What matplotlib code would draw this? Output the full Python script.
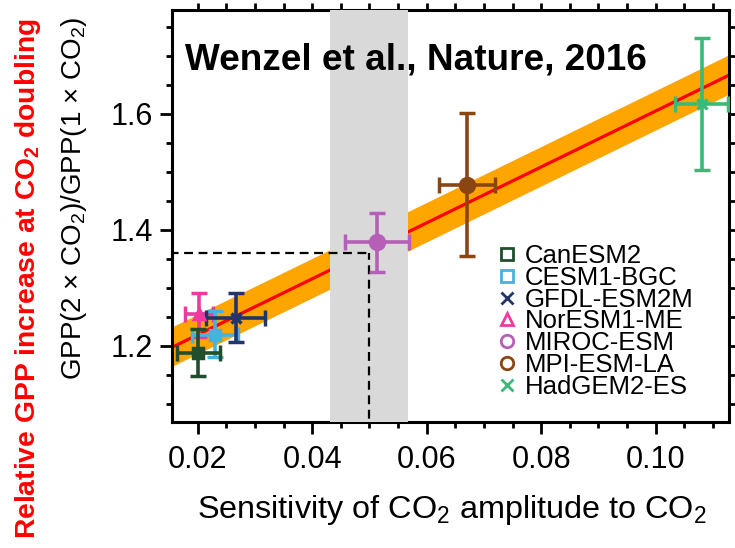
import numpy as np
import matplotlib
matplotlib.use('Agg')
import matplotlib.pyplot as plt
from matplotlib.lines import Line2D
from matplotlib.ticker import MultipleLocator

plt.rcParams['font.family'] = ['Liberation Sans', 'DejaVu Sans']
plt.rcParams['mathtext.fontset'] = 'custom'
plt.rcParams['mathtext.rm'] = 'Liberation Sans'
plt.rcParams['mathtext.it'] = 'Liberation Sans:italic'
plt.rcParams['mathtext.bf'] = 'Liberation Sans:bold'

# model values
models = ['CanESM2', 'CESM1-BGC', 'GFDL-ESM2M', 'NorESM1-ME', 'MIROC-ESM', 'MPI-ESM-LA', 'HadGEM2-ES']
colors = ['#1f4f2c', '#45b2e0', '#23346b', '#ee3a9f', '#b65fb6', '#8b4513', '#3cb878']
markers = ['s', 's', 'x', '^', 'o', 'o', 'x']
sens = [0.0200, 0.0230, 0.0266, 0.0202, 0.0513, 0.0670, 0.1080]
sens_lo = [0.0163, 0.0190, 0.0214, 0.0177, 0.0458, 0.0621, 0.1033]
sens_hi = [0.0238, 0.0270, 0.0317, 0.0227, 0.0569, 0.0719, 0.1127]
gpp = [1.188, 1.219, 1.248, 1.255, 1.379, 1.478, 1.617]
gpp_lo = [1.148, 1.181, 1.207, 1.215, 1.328, 1.355, 1.503]
gpp_hi = [1.229, 1.260, 1.291, 1.291, 1.429, 1.602, 1.731]

# emergent-constraint fit and observation
fit_slope = 4.82
fit_icept = 1.123
fit_halfwidth = 0.034
obs_lo, obs_mean, obs_hi = 0.0431, 0.0499, 0.0567
gpp_constrained = 1.361

fig = plt.figure(figsize=(7.35, 5.48), dpi=100)
ax = fig.add_axes([172/735, 1 - 422/548, (729-172)/735, (422-10)/548])

xx = np.linspace(0.0, 0.13, 50)
yy = fit_icept + fit_slope * xx
ax.fill_between(xx, yy - fit_halfwidth, yy + fit_halfwidth, color='#ffa500', lw=0, zorder=1)
ax.plot(xx, yy, color='red', lw=2.3, zorder=2)
ax.axvspan(obs_lo, obs_hi, color='#d9d9d9', lw=0, zorder=3)

ax.plot([0.0, obs_mean], [gpp_constrained, gpp_constrained], color='black', lw=1.6,
        ls=(0, (4, 2.5)), zorder=4)
ax.plot([obs_mean, obs_mean], [1.0, gpp_constrained], color='black', lw=1.6,
        ls=(0, (4, 2.5)), zorder=4)

order = [3, 1, 0, 2, 4, 5, 6]
for i in order:
    x, y = sens[i], gpp[i]
    ms = 10 if markers[i] == 'o' else 7
    ax.errorbar(x, y, xerr=[[x - sens_lo[i]], [sens_hi[i] - x]],
                yerr=[[y - gpp_lo[i]], [gpp_hi[i] - y]],
                fmt=markers[i], color=colors[i], ms=ms, mew=2.5,
                elinewidth=2.6, capsize=5.5, capthick=3, zorder=5)

ax.set_xlim(0.0155, 0.1128)
ax.set_ylim(1.069, 1.779)

ax.xaxis.set_minor_locator(MultipleLocator(0.005))
ax.yaxis.set_minor_locator(MultipleLocator(0.05))
ax.set_xticks([0.02, 0.04, 0.06, 0.08, 0.10])
ax.set_xticklabels(['0.02', '0.04', '0.06', '0.08', '0.10'])
ax.set_yticks([1.2, 1.4, 1.6])
ax.set_yticklabels(['1.2', '1.4', '1.6'])

for s in ax.spines.values():
    s.set_linewidth(2.2)
ax.tick_params(which='major', direction='out', length=8.6, width=2, labelsize=22, pad=5)
ax.tick_params(which='minor', direction='out', length=4.3, width=2)
ax.tick_params(axis='x', which='major', pad=8)

# ticks on top and right without labels
top = ax.secondary_xaxis('top')
top.xaxis.set_major_locator(MultipleLocator(0.005))
top.tick_params(direction='out', length=5, width=2, labeltop=False)
right = ax.secondary_yaxis('right')
right.yaxis.set_major_locator(MultipleLocator(0.05))
right.tick_params(direction='out', length=5, width=2, labelright=False)

ax.text(0.023, 0.878, 'Wenzel et al., Nature, 2016', transform=ax.transAxes,
        fontsize=26.6, fontweight='bold', va='center', ha='left', zorder=6)

fig.text(197/735, 1 - 518/548, r'Sensitivity of CO$_2$ amplitude to CO$_2$',
         fontsize=23.3, ha='left', va='baseline')
fig.text(74/735, 1 - 198/548, r'GPP(2 × CO$_2$)/GPP(1 × CO$_2$)',
         fontsize=20, ha='center', va='center', rotation=90)
fig.text(28/735, 1 - 279/548, r'Relative GPP increase at CO$_\mathbf{2}$ doubling',
         fontsize=20.3, fontweight='bold', color='red', ha='center', va='center', rotation=90)

handles = [Line2D([], [], ls='none', marker=m, mfc='none', mec=c, mew=2, ms=9)
           for m, c in zip(markers, colors)]
ax.legend(handles, models, loc='upper left', bbox_to_anchor=(499/735, 1 - 244/548),
          bbox_transform=fig.transFigure, frameon=False, fontsize=18.5,
          handlelength=0.6, handletextpad=0.4, labelspacing=-0.085, borderpad=0,
          borderaxespad=0)

fig.savefig('out.png', dpi=100)
